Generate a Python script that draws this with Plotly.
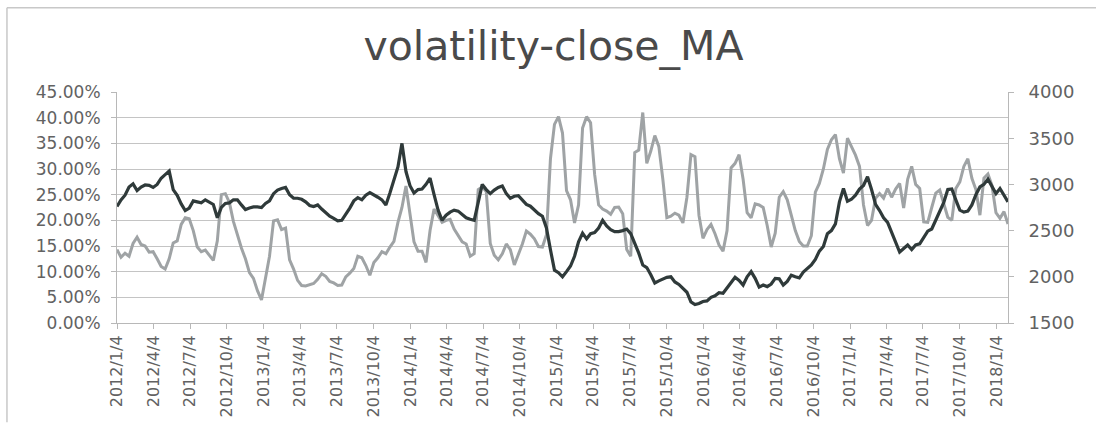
import plotly.graph_objects as go
import pandas as pd

# ---- data ----
start_date = "2012-01-04"
step_days = 10

# volatility (left axis, fraction)
volatility = [
    0.143, 0.128, 0.136, 0.130, 0.155, 0.167, 0.153, 0.150, 0.138, 0.139,
    0.125, 0.110, 0.105, 0.125, 0.156, 0.160, 0.192, 0.205, 0.203, 0.180,
    0.148, 0.139, 0.142, 0.132, 0.122, 0.160, 0.250, 0.252, 0.235, 0.198,
    0.170, 0.146, 0.125, 0.098, 0.087, 0.063, 0.045, 0.085, 0.130, 0.199,
    0.201, 0.182, 0.185, 0.123, 0.105, 0.083, 0.073, 0.072, 0.075, 0.077,
    0.085, 0.096, 0.091, 0.081, 0.078, 0.073, 0.074, 0.090, 0.097, 0.106,
    0.130, 0.127, 0.112, 0.093, 0.118, 0.127, 0.139, 0.135, 0.148, 0.159,
    0.196, 0.225, 0.267, 0.210, 0.158, 0.140, 0.140, 0.118, 0.180, 0.222,
    0.210, 0.196, 0.200, 0.202, 0.183, 0.171, 0.158, 0.154, 0.130, 0.135,
    0.260, 0.265, 0.256, 0.155, 0.132, 0.123, 0.135, 0.154, 0.143, 0.113,
    0.133, 0.154, 0.179, 0.173, 0.164, 0.149, 0.148, 0.172, 0.320, 0.387,
    0.402, 0.370, 0.258, 0.240, 0.195, 0.230, 0.380, 0.402, 0.390, 0.290,
    0.230, 0.222, 0.218, 0.212, 0.225, 0.226, 0.213, 0.143, 0.130, 0.332,
    0.337, 0.410, 0.311, 0.335, 0.365, 0.344, 0.280, 0.205, 0.208, 0.214,
    0.210, 0.195, 0.245, 0.328, 0.324, 0.210, 0.165, 0.182, 0.192, 0.174,
    0.152, 0.140, 0.180, 0.302, 0.311, 0.328, 0.280, 0.215, 0.205, 0.232,
    0.230, 0.225, 0.190, 0.148, 0.175, 0.245, 0.256, 0.240, 0.210, 0.180,
    0.159, 0.150, 0.150, 0.170, 0.255, 0.272, 0.300, 0.338, 0.357, 0.367,
    0.320, 0.292, 0.360, 0.345, 0.327, 0.305, 0.230, 0.190, 0.200, 0.243,
    0.252, 0.243, 0.262, 0.245, 0.261, 0.272, 0.224, 0.280, 0.305, 0.270,
    0.262, 0.197, 0.196, 0.225, 0.253, 0.259, 0.230, 0.206, 0.200, 0.262,
    0.275, 0.305, 0.320, 0.282, 0.260, 0.210, 0.282, 0.290, 0.268, 0.215,
    0.204, 0.217, 0.193,
]

# close moving average (right axis, index points)
close_ma = [
    2761, 2833, 2883, 2972, 3006, 2933, 2972, 2994, 2989, 2967,
    3000, 3067, 3106, 3144, 2944, 2883, 2789, 2717, 2744, 2822,
    2811, 2800, 2833, 2806, 2783, 2639, 2750, 2794, 2800, 2833,
    2833, 2778, 2728, 2744, 2756, 2756, 2750, 2794, 2822, 2900,
    2939, 2956, 2967, 2889, 2850, 2850, 2839, 2811, 2772, 2761,
    2778, 2733, 2689, 2656, 2633, 2606, 2611, 2672, 2744, 2822,
    2856, 2833, 2883, 2911, 2889, 2861, 2833, 2778, 2906, 3056,
    3189, 3444, 3139, 2986, 2906, 2944, 2950, 3000, 3067, 2889,
    2722, 2611, 2667, 2700, 2722, 2711, 2672, 2639, 2622, 2611,
    2806, 3000, 2944, 2900, 2939, 2967, 2983, 2900, 2850, 2872,
    2878, 2828, 2783, 2764, 2722, 2683, 2656, 2528, 2292, 2072,
    2044, 2000, 2056, 2117, 2222, 2378, 2472, 2411, 2467, 2478,
    2528, 2611, 2550, 2511, 2489, 2489, 2500, 2517, 2467, 2367,
    2256, 2128, 2100, 2022, 1933, 1956, 1978, 1994, 2000, 1944,
    1917, 1878, 1833, 1728, 1700, 1711, 1733, 1739, 1778, 1794,
    1828, 1822, 1878, 1933, 1994, 1961, 1911, 2000, 2056, 1983,
    1889, 1911, 1894, 1922, 1983, 1978, 1911, 1950, 2017, 2000,
    1989, 2050, 2089, 2128, 2189, 2278, 2328, 2467, 2500, 2572,
    2811, 2956, 2817, 2839, 2883, 2950, 2989, 3083, 2944, 2783,
    2717, 2639, 2589, 2478, 2389, 2267, 2306, 2344, 2294, 2344,
    2356, 2422, 2494, 2517, 2617, 2706, 2806, 2944, 2950, 2833,
    2722, 2700, 2711, 2778, 2889, 2972, 3000, 3056, 2972, 2900,
    2956, 2883, 2811,
]

tick_labels = [
    "2012/1/4", "2012/4/4", "2012/7/4", "2012/10/4",
    "2013/1/4", "2013/4/4", "2013/7/4", "2013/10/4",
    "2014/1/4", "2014/4/4", "2014/7/4", "2014/10/4",
    "2015/1/4", "2015/4/4", "2015/7/4", "2015/10/4",
    "2016/1/4", "2016/4/4", "2016/7/4", "2016/10/4",
    "2017/1/4", "2017/4/4", "2017/7/4", "2017/10/4",
    "2018/1/4",
]

title_text = "volatility-close_MA"

# ---- figure ----
dates = pd.date_range(start_date, periods=len(volatility), freq=f"{step_days}D")
tick_vals = pd.to_datetime(tick_labels, format="%Y/%m/%d")

font_family = "DejaVu Sans, Arial, sans-serif"
label_col = "#626262"
axis_col = "#b8b8b8"

fig = go.Figure()
fig.add_trace(go.Scatter(
    x=dates, y=volatility, mode="lines", name="volatility",
    line=dict(color="#9fa3a5", width=3), yaxis="y",
))
fig.add_trace(go.Scatter(
    x=dates, y=close_ma, mode="lines", name="close_MA",
    line=dict(color="#2f3a3a", width=3.2), yaxis="y2",
))

fig.update_layout(
    width=1096, height=429,
    margin=dict(l=117, r=88, t=92, b=101),
    paper_bgcolor="white", plot_bgcolor="white",
    showlegend=False,
    title=dict(text=title_text, x=0.505, xanchor="center", y=0.893, yanchor="middle",
               xref="container", yref="container",
               font=dict(family="DejaVu Sans, sans-serif", size=41, color="#4a4a4a")),
    xaxis=dict(
        type="date", range=[dates[0], dates[-1]],
        tickmode="array", tickvals=tick_vals, ticktext=tick_labels,
        tickangle=-90, showgrid=False, zeroline=False,
        showline=True, linecolor=axis_col, linewidth=1,
        ticks="outside", ticklen=5, tickcolor=axis_col,
        tickfont=dict(family=font_family, size=16, color=label_col),
    ),
    yaxis=dict(
        range=[0, 0.45], dtick=0.05, tick0=0, tickformat=".2%",
        showgrid=True, gridcolor="#c4c4c4", gridwidth=1, zeroline=False,
        showline=True, linecolor=axis_col, linewidth=1,
        ticks="outside", ticklen=5, tickcolor=axis_col,
        tickfont=dict(family=font_family, size=17, color=label_col),
        ticklabelstandoff=7,
    ),
    yaxis2=dict(
        overlaying="y", side="right", range=[1500, 4000], dtick=500, tick0=1500,
        showgrid=False, zeroline=False,
        showline=True, linecolor=axis_col, linewidth=1,
        ticks="outside", ticklen=5, tickcolor=axis_col,
        tickfont=dict(family=font_family, size=18, color=label_col),
        ticklabelstandoff=11,
    ),
    shapes=[
        dict(type="line", xref="paper", yref="paper", x0=-0.1235, x1=1.0988, y0=1.3644, y1=1.3644,
             line=dict(color="#c8c8c8", width=1.5)),
        dict(type="line", xref="paper", yref="paper", x0=-0.1235, x1=-0.1235, y0=1.3644, y1=-0.43,
             line=dict(color="#c8c8c8", width=1.5)),
    ],
)

fig.write_html("out.html", config={"displayModeBar": False},
               post_script="document.body.style.margin='0';")
